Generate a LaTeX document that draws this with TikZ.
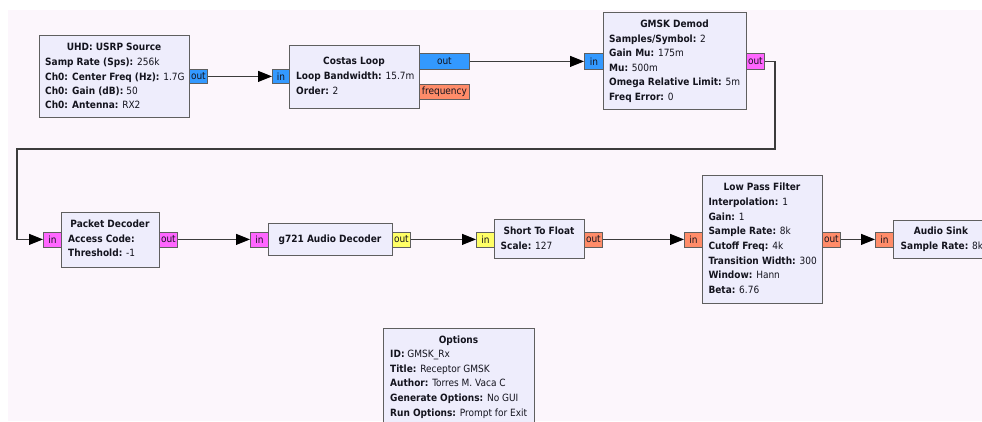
\documentclass[tikz,border=0pt]{standalone}
\usepackage{fontspec}
\setmainfont{DejaVu Sans Condensed}
\usetikzlibrary{arrows.meta,fit}
\definecolor{canvas}{RGB}{252,246,252}
\definecolor{blockfill}{RGB}{238,237,252}
\definecolor{edge}{RGB}{95,95,95}
\definecolor{wirec}{RGB}{60,60,60}
\definecolor{pblue}{RGB}{51,153,255}
\definecolor{pmag}{RGB}{255,102,255}
\definecolor{pyel}{RGB}{255,255,102}
\definecolor{pora}{RGB}{255,140,105}
\definecolor{txtc}{RGB}{20,20,30}
\begin{document}
\begin{tikzpicture}[x=1pt,y=-1pt,
  every node/.style={text=txtc},
  blk/.style={draw=edge, fill=blockfill, line width=1pt, inner sep=0pt},
  port/.style={draw=edge, line width=0.8pt, inner sep=0pt, anchor=north west,
    minimum width=18pt, minimum height=15pt, font=\fontsize{10}{11}\selectfont},
  ttl/.style={font=\fontsize{10}{12}\selectfont\bfseries, anchor=base, inner sep=0pt},
  kv/.style={font=\fontsize{10}{12}\selectfont, anchor=base west, inner sep=0pt},
  wire/.style={draw=wirec, line width=1.1pt, -{Triangle[length=14pt,width=11pt,color=black]}}]
\useasboundingbox (0,0) rectangle (982,421);
\clip (0,0) rectangle (982,421);
\fill[canvas] (8,10) rectangle (982,421);

% UHD: USRP Source
\node[blk, fit={(39,35)(189,117)}] (usrp) {};
\node[ttl] (usrp-t) at (114,50.8) {UHD: USRP Source};
\node[kv] (usrp-1) at (45,65.8) {\textbf{Samp Rate (Sps):} 256k};
\node[kv] (usrp-2) at (45,80.1) {\textbf{Ch0: Center Freq (Hz):} 1.7G};
\node[kv] (usrp-3) at (45,94.5) {\textbf{Ch0: Gain (dB):} 50};
\node[kv] (usrp-4) at (45,108.8) {\textbf{Ch0: Antenna:} RX2};
\node[port, fill=pblue, minimum height=14pt] (usrp-o) at (189,69) {out};

% Costas Loop
\node[blk, fit={(289,45)(419,108)}] (cl) {};
\node[ttl] (cl-t) at (354,64.8) {Costas Loop};
\node[kv] (cl-1) at (296,79.8) {\textbf{Loop Bandwidth:} 15.7m};
\node[kv] (cl-2) at (296,94.3) {\textbf{Order:} 2};
\node[port, fill=pblue, minimum width=17pt, minimum height=14pt] (cl-i) at (272,69) {in};
\node[port, fill=pblue, minimum width=50pt, minimum height=16pt] (cl-o) at (419,53) {out};
\node[port, fill=pora, minimum width=50pt] (cl-f) at (419,84) {frequency};

% GMSK Demod
\node[blk, fit={(603,12)(746,109)}] (gm) {};
\node[ttl] (gm-t) at (674.5,27.8) {GMSK Demod};
\node[kv] (gm-1) at (609,42.1) {\textbf{Samples/Symbol:} 2};
\node[kv] (gm-2) at (609,56.7) {\textbf{Gain Mu:} 175m};
\node[kv] (gm-3) at (609,71.3) {\textbf{Mu:} 500m};
\node[kv] (gm-4) at (609,85.8) {\textbf{Omega Relative Limit:} 5m};
\node[kv] (gm-5) at (609,100.8) {\textbf{Freq Error:} 0};
\node[port, fill=pblue, minimum width=19pt, minimum height=16pt] (gm-i) at (584,53) {in};
\node[port, fill=pmag, minimum height=16pt] (gm-o) at (746,53) {out};

% Packet Decoder
\node[blk, fit={(61,212)(159,267)}] (pd) {};
\node[ttl] (pd-t) at (110,227.3) {Packet Decoder};
\node[kv] (pd-1) at (68,242.1) {\textbf{Access Code:}};
\node[kv] (pd-2) at (68,256.3) {\textbf{Threshold:} -1};
\node[port, fill=pmag] (pd-i) at (43,231.5) {in};
\node[port, fill=pmag] (pd-o) at (159,231.5) {out};

% g721 Audio Decoder
\node[blk, fit={(268,223)(392,255)}] (g7) {};
\node[ttl] (g7-t) at (330,242.1) {g721 Audio Decoder};
\node[port, fill=pmag] (g7-i) at (250,231.5) {in};
\node[port, fill=pyel] (g7-o) at (392,231.5) {out};

% Short To Float
\node[blk, fit={(494,219)(584,258)}] (sf) {};
\node[ttl] (sf-t) at (539,234.8) {Short To Float};
\node[kv] (sf-1) at (500.5,249.5) {\textbf{Scale:} 127};
\node[port, fill=pyel] (sf-i) at (476,231.5) {in};
\node[port, fill=pora] (sf-o) at (584,231.5) {out};

% Low Pass Filter
\node[blk, fit={(702,175)(822,303)}] (lp) {};
\node[ttl] (lp-t) at (762,190.5) {Low Pass Filter};
\node[kv] (lp-1) at (708.3,205.8) {\textbf{Interpolation:} 1};
\node[kv] (lp-2) at (708.3,220.1) {\textbf{Gain:} 1};
\node[kv] (lp-3) at (708.3,234.9) {\textbf{Sample Rate:} 8k};
\node[kv] (lp-4) at (708.3,249.5) {\textbf{Cutoff Freq:} 4k};
\node[kv] (lp-5) at (708.3,264.1) {\textbf{Transition Width:} 300};
\node[kv] (lp-6) at (708.3,278.6) {\textbf{Window:} Hann};
\node[kv] (lp-7) at (708.3,293.1) {\textbf{Beta:} 6.76};
\node[port, fill=pora] (lp-i) at (684,231.5) {in};
\node[port, fill=pora] (lp-o) at (822,231.5) {out};

% Audio Sink
\node[blk, fit={(893,220)(989,258)}] (as) {};
\node[ttl] (as-t) at (941,234.8) {Audio Sink};
\node[kv] (as-1) at (900.5,249.8) {\textbf{Sample Rate:} 8k};
\node[port, fill=pora] (as-i) at (875,231.5) {in};

% Options
\node[blk, fit={(383,328)(534,430)}] (op) {};
\node[ttl] (op-t) at (458.5,343.1) {Options};
\node[kv] (op-1) at (390,357.8) {\textbf{ID:} GMSK\_Rx};
\node[kv] (op-2) at (390,372.3) {\textbf{Title:} Receptor GMSK};
\node[kv] (op-3) at (390,386.9) {\textbf{Author:} Torres M. Vaca C};
\node[kv] (op-4) at (390,401.5) {\textbf{Generate Options:} No GUI};
\node[kv] (op-5) at (390,416.1) {\textbf{Run Options:} Prompt for Exit};

% connectors
\coordinate (b1) at (775,149);
\coordinate (b2) at (17,149);
\draw[wire] (usrp-o.east) -- (cl-i.west);
\draw[wire] (cl-o.east) -- (gm-i.west);
\draw[wire] (gm-o.east) -| (b1) -- (b2) |- (pd-i.west);
\draw[wire] (pd-o.east) -- (g7-i.west);
\draw[wire] (g7-o.east) -- (sf-i.west);
\draw[wire] (sf-o.east) -- (lp-i.west);
\draw[wire] (lp-o.east) -- (as-i.west);
\end{tikzpicture}
\end{document}
